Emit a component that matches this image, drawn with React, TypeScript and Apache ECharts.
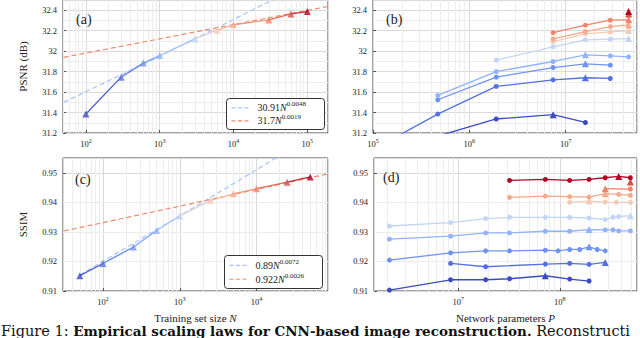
import React, { useEffect, useRef } from 'react';
import * as echarts from 'echarts';

const FONT = '"Liberation Serif", "DejaVu Serif", serif';
const CAP_FONT = '"DejaVu Serif", "Liberation Serif", serif';
const TXT = '#222';

// coolwarm-like colours, one per training set size (small N -> blue, large N -> red)
const PALETTE = ['#3b4cc0', '#5470de', '#7093f3', '#91b3fe', '#c2d5f4', '#f2cbb7', '#f5a98b', '#ee8468', '#d65244', '#b40426'];

// ---------- (a) PSNR vs training set size ----------
const N_A = [100, 300, 600, 1000, 3000, 6000, 10000, 30000, 60000, 100000];
const PSNR_A = [31.385, 31.746, 31.883, 31.957, 32.12, 32.205, 32.258, 32.305, 32.364, 32.387];
const FIT_A_BLUE: [number, number][] = [[50, 31.5], [1000, 31.95], [10000, 32.31], [200000, 32.78]];
const FIT_A_RED: [number, number][] = [[50, 31.94], [1000, 32.12], [10000, 32.26], [200000, 32.44]];

// ---------- (b) PSNR vs network parameters, one line per training set size ----------
const B_N100: [number, number][] = [[4.7e5, 31.17], [1.9e6, 31.337], [7.4e6, 31.379], [1.6e7, 31.303]];
const B_N300: [number, number][] = [[1.2e5, 31.08], [4.7e5, 31.385], [1.9e6, 31.655], [7.4e6, 31.72], [1.6e7, 31.74], [2.9e7, 31.733]];
const B_N600: [number, number][] = [[4.7e5, 31.525], [1.9e6, 31.746], [7.4e6, 31.84], [1.6e7, 31.876], [2.9e7, 31.863]];
const B_N1000: [number, number][] = [[4.7e5, 31.567], [1.9e6, 31.8], [7.4e6, 31.899], [1.6e7, 31.964], [2.9e7, 31.954], [4.5e7, 31.944]];
const B_N3000: [number, number][] = [[1.9e6, 31.912], [7.4e6, 32.042], [1.6e7, 32.11], [2.9e7, 32.117], [4.5e7, 32.123]];
const B_N6000: [number, number][] = [[7.4e6, 32.094], [1.6e7, 32.169], [2.9e7, 32.188], [4.5e7, 32.201]];
const B_N10000: [number, number][] = [[7.4e6, 32.12], [1.6e7, 32.191], [2.9e7, 32.24], [4.5e7, 32.256]];
const B_N30000: [number, number][] = [[7.4e6, 32.181], [1.6e7, 32.254], [2.9e7, 32.303], [4.5e7, 32.306]];
const B_N60000: [number, number][] = [[4.5e7, 32.364]];
const B_N100000: [number, number][] = [[4.5e7, 32.387]];
const B_SERIES = [B_N100, B_N300, B_N600, B_N1000, B_N3000, B_N6000, B_N10000, B_N30000, B_N60000, B_N100000];

// ---------- (c) SSIM vs training set size ----------
const N_C = [50, 100, 250, 500, 1000, 2500, 5000, 10000, 25000, 50000];
const SSIM_C = [0.9152, 0.9193, 0.9249, 0.9305, 0.9354, 0.9406, 0.9429, 0.9446, 0.9468, 0.9486];
const FIT_C_BLUE: [number, number][] = [[50, 0.9154], [1000, 0.9354], [10000, 0.951], [100000, 0.9669]];
const FIT_C_RED: [number, number][] = [[31, 0.9303], [1000, 0.9387], [10000, 0.9444], [100000, 0.95]];

// ---------- (d) SSIM vs network parameters ----------
const D_N50: [number, number][] = [[2.1e6, 0.9103], [8.4e6, 0.9138], [1.86e7, 0.9138], [3.2e7, 0.91415], [7.2e7, 0.91516], [1.25e8, 0.91404], [1.94e8, 0.91337]];
const D_N100: [number, number][] = [[8.4e6, 0.91934], [1.86e7, 0.9182], [7.2e7, 0.9191], [1.25e8, 0.91934], [1.94e8, 0.919], [2.8e8, 0.91967]];
const D_N250: [number, number][] = [[2.1e6, 0.92045], [8.4e6, 0.9229], [1.86e7, 0.92358], [3.2e7, 0.92358], [7.2e7, 0.9238], [9.6e7, 0.92358], [1.25e8, 0.92405], [1.57e8, 0.92405], [1.94e8, 0.92493], [2.33e8, 0.92405], [2.8e8, 0.92358]];
const D_N500: [number, number][] = [[2.1e6, 0.92753], [8.4e6, 0.92854], [1.86e7, 0.92965], [3.2e7, 0.92965], [7.2e7, 0.93022], [1.25e8, 0.93022], [1.94e8, 0.93079], [2.8e8, 0.93066], [3.34e8, 0.9307], [3.8e8, 0.93032], [4.95e8, 0.93032]];
const D_N1000: [number, number][] = [[2.1e6, 0.932], [8.4e6, 0.93315], [1.86e7, 0.9345], [3.2e7, 0.93494], [7.2e7, 0.93494], [1.25e8, 0.93494], [1.94e8, 0.9347], [2.8e8, 0.93416], [3.34e8, 0.93494], [3.8e8, 0.93517], [4.95e8, 0.9355]];
const D_N2500: [number, number][] = [[1.25e8, 0.93999], [1.94e8, 0.94044], [2.8e8, 0.9401], [3.6e8, 0.93999], [4.95e8, 0.94]];
const D_N5000: [number, number][] = [[3.2e7, 0.94168], [7.2e7, 0.94212], [1.25e8, 0.94191], [1.94e8, 0.94178], [2.8e8, 0.94293], [3.8e8, 0.94269], [4.95e8, 0.94236]];
const D_N10000: [number, number][] = [[2.8e8, 0.94461], [4.95e8, 0.9445]];
const D_N25000: [number, number][] = [[4.95e8, 0.94684]];
const D_N50000: [number, number][] = [[3.2e7, 0.94741], [7.2e7, 0.94775], [1.25e8, 0.94741], [1.94e8, 0.94775], [2.8e8, 0.94832], [3.8e8, 0.94876], [4.95e8, 0.94832]];
const D_SERIES = [D_N50, D_N100, D_N250, D_N500, D_N1000, D_N2500, D_N5000, D_N10000, D_N25000, D_N50000];

// axis ranges (log10 of N or P)
const X_RANGES = [[1.69, 5.28], [5, 7.74], [1.48, 4.93], [6.17, 8.76]];
const Y_PSNR = { min: 31.2, max: 32.5, interval: 0.2 };
const Y_SSIM = { min: 0.91, max: 0.955, interval: 0.01 };

const FIT_BLUE = '#a7c4fd';
const FIT_RED = '#f0896b';

const lg = Math.log10;

function hex(c: string) {
  return [1, 3, 5].map((i) => parseInt(c.slice(i, i + 2), 16));
}
function mix(a: string, b: string) {
  const x = hex(a), y = hex(b);
  return 'rgb(' + x.map((v, i) => Math.round((v + y[i]) / 2)).join(',') + ')';
}

function minorX(min: number, max: number) {
  const out: number[] = [];
  for (let n = Math.floor(min); n <= Math.ceil(max); n++) {
    for (let k = 2; k <= 9; k++) {
      const v = n + lg(k);
      if (v > min + 0.004 && v < max - 0.004) out.push(v);
    }
  }
  return out;
}
function minorY(min: number, max: number, step: number) {
  const out: number[] = [];
  for (let v = min + step / 2; v < max - step * 0.05; v += step) out.push(+v.toFixed(6));
  return out;
}

function gridLines(idx: number, y: { min: number; max: number; interval: number }) {
  const [a, b] = X_RANGES[idx];
  return {
    type: 'line',
    xAxisIndex: idx,
    yAxisIndex: idx,
    data: [[a, y.min]],
    symbol: 'none',
    lineStyle: { opacity: 0 },
    silent: true,
    z: 1,
    markLine: {
      silent: true,
      z: 1,
      symbol: ['none', 'none'],
      label: { show: false },
      emphasis: { disabled: true },
      lineStyle: { color: '#ededed', width: 1, type: 'solid' },
      data: [
        ...minorX(a, b).map((v) => ({ xAxis: v })),
        ...minorY(y.min, y.max, y.interval).map((v) => ({ yAxis: v })),
      ],
    },
  };
}

function fitSeries(idx: number, pts: [number, number][], color: string) {
  return {
    type: 'line',
    xAxisIndex: idx,
    yAxisIndex: idx,
    data: pts.map(([n, v]) => [lg(n), v]),
    symbol: 'none',
    clip: true,
    z: 2,
    lineStyle: { color, width: 1.2, type: [5, 3] },
  };
}

function sizeSeries(idx: number, ns: number[], vals: number[]) {
  const out: any[] = [];
  for (let i = 0; i < ns.length - 1; i++) {
    out.push({
      type: 'line',
      xAxisIndex: idx,
      yAxisIndex: idx,
      data: [[lg(ns[i]), vals[i]], [lg(ns[i + 1]), vals[i + 1]]],
      symbol: 'none',
      clip: true,
      z: 3,
      lineStyle: { color: mix(PALETTE[i], PALETTE[i + 1]), width: 1.3 },
    });
  }
  out.push({
    type: 'scatter',
    xAxisIndex: idx,
    yAxisIndex: idx,
    symbol: 'triangle',
    symbolSize: 7,
    z: 4,
    data: ns.map((n, i) => ({ value: [lg(n), vals[i]], itemStyle: { color: PALETTE[i] } })),
  });
  return out;
}

function paramSeries(idx: number, list: [number, number][][]) {
  return list.map((pts, i) => {
    const best = Math.max(...pts.map((p) => p[1]));
    return {
      type: 'line',
      xAxisIndex: idx,
      yAxisIndex: idx,
      clip: true,
      z: 3 + i * 0.01,
      showAllSymbol: true,
      lineStyle: { color: PALETTE[i], width: 1.3 },
      itemStyle: { color: PALETTE[i] },
      data: pts.map(([p, v]) => ({
        value: [lg(p), v],
        symbol: v === best ? 'triangle' : 'circle',
        symbolSize: v === best ? 7 : 5,
      })),
    };
  });
}

const tickLabel = {
  fontFamily: FONT,
  fontSize: 8.5,
  color: TXT,
};

function xAxis(idx: number, name?: string) {
  const [min, max] = X_RANGES[idx];
  const intMin = Math.abs(min - Math.round(min)) < 1e-9;
  return {
    type: 'value',
    gridIndex: idx,
    min,
    max,
    ...(intMin ? { interval: 1 } : { splitNumber: idx % 2 === 0 ? 4 : 3 }),
    name: name || '',
    nameLocation: 'middle',
    nameGap: 21,
    nameTextStyle: {
      fontFamily: FONT,
      fontSize: 11,
      color: TXT,
      rich: { i: { fontFamily: FONT, fontSize: 11, fontStyle: 'italic', color: TXT } },
    },
    axisLine: { show: false },
    axisTick: { show: true, inside: true, length: 3, lineStyle: { color: '#555' } },
    splitLine: { show: true, lineStyle: { color: '#d9d9d9', width: 1 } },
    axisLabel: {
      ...tickLabel,
      margin: 5,
      showMinLabel: intMin,
      showMaxLabel: false,
      formatter: (v: number) => {
        const r = Math.round(v);
        if (Math.abs(v - r) > 1e-6) return '';
        return '{b|10}{s|' + r + '}';
      },
      rich: {
        b: { fontFamily: FONT, fontSize: 8.5, color: TXT, verticalAlign: 'bottom', lineHeight: 10.5 },
        s: { fontFamily: FONT, fontSize: 6, color: TXT, verticalAlign: 'top' },
      },
    },
  };
}

function yAxis(idx: number, y: { min: number; max: number; interval: number }, digits: number, name?: string) {
  return {
    type: 'value',
    gridIndex: idx,
    min: y.min,
    max: y.max,
    interval: y.interval,
    name: name || '',
    nameLocation: 'middle',
    nameGap: 35,
    nameTextStyle: { fontFamily: FONT, fontSize: 11, color: TXT },
    axisLine: { show: false },
    axisTick: { show: true, inside: true, length: 3, lineStyle: { color: '#555' } },
    splitLine: { show: true, lineStyle: { color: '#d9d9d9', width: 1 } },
    axisLabel: {
      ...tickLabel,
      margin: 6,
      showMaxLabel: false,
      formatter: (v: number) => String(Number(v.toFixed(digits))),
    },
  };
}

function legendBox(x: number, y: number, w: number, h: number, l1: string[], l2: string[]) {
  const rich = {
    n: { fontFamily: FONT, fontSize: 10, fill: TXT, verticalAlign: 'bottom', lineHeight: 12 },
    i: { fontFamily: FONT, fontSize: 10, fontStyle: 'italic', fill: TXT, verticalAlign: 'bottom', lineHeight: 12 },
    s: { fontFamily: FONT, fontSize: 7, fill: TXT, verticalAlign: 'top' },
  };
  const row = (ty: number, color: string, parts: string[]) => [
    { type: 'line', shape: { x1: x + 5, y1: ty, x2: x + 22, y2: ty }, style: { stroke: color, lineWidth: 1.2, lineDash: [4, 2.5] }, z: 101 },
    {
      type: 'text',
      x: x + 31,
      y: ty - 7,
      style: {
        text: '{n|' + parts[0] + '}{i|N}{s|' + parts[1] + '}',
        rich,
      },
      z: 101,
    },
  ];
  return [
    { type: 'rect', shape: { x, y, width: w, height: h, r: 3 }, style: { fill: '#fff', stroke: '#333', lineWidth: 1 }, z: 100 },
    ...row(y + h * 0.3, FIT_BLUE, l1),
    ...row(y + h * 0.72, FIT_RED, l2),
  ];
}

function panelLabel(x: number, y: number, t: string) {
  return { type: 'text', x, y, style: { text: t, fontFamily: FONT, fontSize: 14, fill: TXT }, z: 100 };
}

export default function App() {
  const ref = useRef<HTMLDivElement>(null);
  useEffect(() => {
    if (!ref.current) return;
    const chart = echarts.init(ref.current, undefined, { renderer: 'svg' });
    const grids = [
      { left: 63, top: 0, width: 265, height: 133 },
      { left: 373, top: 0, width: 264, height: 133 },
      { left: 63, top: 158, width: 265, height: 133 },
      { left: 374, top: 158, width: 263, height: 133 },
    ].map((g) => ({ ...g, show: true, borderColor: '#444', borderWidth: 1, backgroundColor: 'transparent', containLabel: false }));

    const series: any[] = [
      gridLines(0, Y_PSNR),
      gridLines(1, Y_PSNR),
      gridLines(2, Y_SSIM),
      gridLines(3, Y_SSIM),
      fitSeries(0, FIT_A_BLUE, FIT_BLUE),
      fitSeries(0, FIT_A_RED, FIT_RED),
      ...sizeSeries(0, N_A, PSNR_A),
      ...paramSeries(1, B_SERIES),
      fitSeries(2, FIT_C_BLUE, FIT_BLUE),
      fitSeries(2, FIT_C_RED, FIT_RED),
      ...sizeSeries(2, N_C, SSIM_C),
      ...paramSeries(3, D_SERIES),
    ];

    chart.setOption({
      animation: false,
      backgroundColor: '#fff',
      grid: grids,
      xAxis: [xAxis(0), xAxis(1), xAxis(2, 'Training set size {i|N}'), xAxis(3, 'Network parameters {i|P}')],
      yAxis: [yAxis(0, Y_PSNR, 1, 'PSNR (dB)'), yAxis(1, Y_PSNR, 1), yAxis(2, Y_SSIM, 2, 'SSIM'), yAxis(3, Y_SSIM, 2)],
      series,
      graphic: [
        panelLabel(76, 12, '(a)'),
        panelLabel(386, 12, '(b)'),
        panelLabel(75, 172, '(c)'),
        panelLabel(383, 170, '(d)'),
        ...legendBox(226.5, 98.5, 98, 31, ['30.91', '0.0048'], ['31.7', '0.0019']),
        ...legendBox(224.5, 255.5, 98, 33, ['0.89', '0.0072'], ['0.922', '0.0026']),
        {
          type: 'text',
          x: 1,
          y: 338,
          style: {
            text: '{n|Figure 1: }{b|Empirical scaling laws for CNN-based image reconstruction.}{n| Reconstructi}',
            verticalAlign: 'bottom',
            rich: {
              n: { fontFamily: CAP_FONT, fontSize: 14.5, fill: '#111', lineHeight: 15 },
              b: { fontFamily: CAP_FONT, fontSize: 13.5, fontWeight: 'bold', fill: '#111', lineHeight: 15 },
            },
          },
          z: 100,
        },
      ],
    });
    return () => chart.dispose();
  }, []);
  return <div ref={ref} style={{ position: 'fixed', left: 0, top: 0, width: 640, height: 338, background: '#fff' }} />;
}
